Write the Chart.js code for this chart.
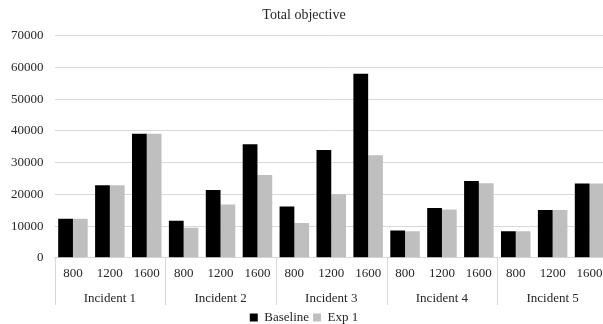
<!DOCTYPE html>
<html lang="en">
<head>
    <meta charset="UTF-8">
    <title>Total objective</title>
    <script src="https://cdn.jsdelivr.net/npm/chart.js"></script>
    <style>
        html, body {
            margin: 0;
            padding: 0;
            background: #ffffff;
            overflow: hidden;
        }
        .wrap {
            width: 622px;
            height: 334px;
        }
    </style>
</head>
<body>
    <div class="wrap">
        <canvas id="chart"></canvas>
    </div>

    <script>
        // data
        const sizes = ['800', '1200', '1600', '800', '1200', '1600', '800', '1200', '1600', '800', '1200', '1600', '800', '1200', '1600'];
        const incidents = ['Incident 1', 'Incident 2', 'Incident 3', 'Incident 4', 'Incident 5'];
        const baseline = [12300, 22900, 39100, 11700, 21400, 35800, 16200, 34000, 58000, 8600, 15700, 24200, 8400, 15100, 23400];
        const exp1 = [12300, 22900, 39100, 9500, 16800, 26100, 11000, 20000, 32300, 8400, 15200, 23500, 8400, 15100, 23400];
        const yTicks = [0, 10000, 20000, 30000, 40000, 50000, 60000, 70000];

        const serif = "'Liberation Serif', 'Times New Roman', serif";
        const textColor = '#262626';
        const gridColor = '#d9d9d9';

        // vertical separators between the incident groups, below the axis
        const groupLines = {
            id: 'groupLines',
            afterDraw(chart) {
                const x = chart.scales.x;
                const x2 = chart.scales.x2;
                const ctx = chart.ctx;
                ctx.save();
                ctx.strokeStyle = gridColor;
                ctx.lineWidth = 1;
                for (let i = 0; i <= incidents.length; i++) {
                    const px = Math.round(x.getPixelForValue(i * 3 - 0.5)) + 0.5;
                    ctx.beginPath();
                    ctx.moveTo(px, x.top);
                    ctx.lineTo(px, x2.bottom - 2);
                    ctx.stroke();
                }
                ctx.restore();
            }
        };

        new Chart(document.getElementById('chart'), {
            type: 'bar',
            data: {
                labels: sizes,
                datasets: [{
                    label: 'Baseline',
                    data: baseline,
                    backgroundColor: '#000000',
                    xAxisID: 'x'
                }, {
                    label: 'Exp 1',
                    data: exp1,
                    backgroundColor: '#bfbfbf',
                    xAxisID: 'x'
                }]
            },
            options: {
                responsive: true,
                maintainAspectRatio: false,
                animation: false,
                layout: {
                    padding: { left: 0, right: 14, top: 5, bottom: 0 }
                },
                datasets: {
                    bar: {
                        categoryPercentage: 0.8,
                        barPercentage: 1.0
                    }
                },
                plugins: {
                    title: {
                        display: true,
                        text: 'Total objective',
                        color: textColor,
                        font: { family: serif, size: 14, weight: 'normal' },
                        padding: { top: 2, bottom: 12 }
                    },
                    legend: {
                        position: 'bottom',
                        labels: {
                            color: textColor,
                            font: { family: serif, size: 13 },
                            boxWidth: 8,
                            boxHeight: 8,
                            padding: 4
                        }
                    },
                    tooltip: { enabled: false }
                },
                scales: {
                    x: {
                        position: 'bottom',
                        grid: { display: false, drawTicks: false },
                        border: { display: true, color: gridColor },
                        ticks: {
                            color: textColor,
                            font: { family: serif, size: 13 },
                            padding: 8,
                            maxRotation: 0,
                            autoSkip: false
                        }
                    },
                    x2: {
                        type: 'category',
                        position: 'bottom',
                        labels: incidents,
                        offset: true,
                        grid: { display: false, drawTicks: false },
                        border: { display: false },
                        ticks: {
                            color: textColor,
                            font: { family: serif, size: 13 },
                            padding: 1,
                            maxRotation: 0,
                            autoSkip: false
                        }
                    },
                    y: {
                        min: 0,
                        max: 70000,
                        afterBuildTicks(axis) {
                            axis.ticks = yTicks.map(v => ({ value: v }));
                        },
                        grid: { color: gridColor, drawTicks: false },
                        border: { display: false },
                        ticks: {
                            color: textColor,
                            font: { family: serif, size: 13 },
                            padding: 11,
                            callback: v => String(v)
                        }
                    }
                }
            },
            plugins: [groupLines]
        });
    </script>
</body>
</html>
